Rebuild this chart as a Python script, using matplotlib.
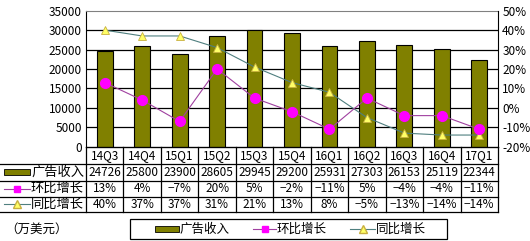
import matplotlib
matplotlib.use('Agg')
import matplotlib.pyplot as plt
from matplotlib.lines import Line2D
from matplotlib.patches import Rectangle

plt.rcParams['font.family'] = ['Noto Sans CJK SC', 'DejaVu Sans']

quarters = ['14Q3', '14Q4', '15Q1', '15Q2', '15Q3', '15Q4', '16Q1', '16Q2', '16Q3', '16Q4', '17Q1']
revenue = [24726, 25800, 23900, 28605, 29945, 29200, 25931, 27303, 26153, 25119, 22344]
qoq = [13, 4, -7, 20, 5, -2, -11, 5, -4, -4, -11]
yoy = [40, 37, 37, 31, 21, 13, 8, -5, -13, -14, -14]
left_ticks = [0, 5000, 10000, 15000, 20000, 25000, 30000, 35000]
right_ticks = [-20, -10, 0, 10, 20, 30, 40, 50]
series_names = ['广告收入', '环比增长', '同比增长']

BAR_C = '#808000'
QOQ_C = '#ff00ff'
QOQ_LINE = '#a040a0'
YOY_C = '#ffff66'
YOY_LINE = '#4f7f7f'

W, H = 530, 241
fig = plt.figure(figsize=(W / 100, H / 100), dpi=100)
fig.patch.set_facecolor('white')

def fx(px):
    return px / W

def fy(py):
    return 1 - py / H

x0, x1, ytop, ybot = 86, 498, 10.7, 146.7
ax = fig.add_axes([fx(x0), fy(ybot), fx(x1) - fx(x0), fy(ytop) - fy(ybot)])
ax2 = ax.twinx()

xs = list(range(len(quarters)))
ax.bar(xs, revenue, width=0.42, color=BAR_C, edgecolor='black', linewidth=0.8, zorder=3)
ax.set_xlim(-0.5, len(quarters) - 0.5)
ax.set_ylim(0, 35000)
ax.set_yticks(left_ticks)
ax.set_yticklabels([str(v) for v in left_ticks], fontsize=8.5)
ax.set_xticks([])
for v in left_ticks[1:-1]:
    ax.axhline(v, color='black', linewidth=0.9, zorder=1)

ax2.plot(xs, yoy, color=YOY_LINE, linewidth=0.8, marker='^', markersize=6,
         markerfacecolor=YOY_C, markeredgecolor='#c8b040', markeredgewidth=0.6, zorder=4)
ax2.plot(xs, qoq, color=QOQ_LINE, linewidth=0.8, marker='o', markersize=7,
         markerfacecolor=QOQ_C, markeredgecolor=QOQ_C, zorder=5)
ax2.set_ylim(-20, 50)
ax2.set_yticks(right_ticks)
ax2.set_yticklabels([f'{v}%' for v in right_ticks], fontsize=8.5)

for a in (ax, ax2):
    a.tick_params(length=0, pad=3)
    for s in a.spines.values():
        s.set_visible(False)
ax.spines['left'].set_visible(True)
ax.spines['left'].set_color('black')
ax2.spines['right'].set_visible(True)
ax2.spines['right'].set_color('black')
ax.spines['top'].set_visible(True)
ax.spines['top'].set_color('#808080')
ax.spines['bottom'].set_visible(True)
ax.spines['bottom'].set_color('black')

# data table below the plot
row_lines = [146.7, 163.5, 180.5, 196.5, 212]
col_w = (x1 - x0) / len(quarters)
lw = 0.9
fig.add_artist(Line2D([fx(x0), fx(x1)], [fy(row_lines[0])] * 2, color='black', lw=lw))
for r in row_lines[1:]:
    fig.add_artist(Line2D([fx(0), fx(x1)], [fy(r)] * 2, color='black', lw=lw))
for i in range(len(quarters) + 1):
    xp = x0 + i * col_w
    fig.add_artist(Line2D([fx(xp)] * 2, [fy(row_lines[0]), fy(row_lines[-1])], color='black', lw=lw))

rows = [quarters, [str(v) for v in revenue], [f'{v}%' for v in qoq], [f'{v}%' for v in yoy]]
for r, vals in enumerate(rows):
    yc = (row_lines[r] + row_lines[r + 1]) / 2
    for i, t in enumerate(vals):
        fig.text(fx(x0 + (i + 0.5) * col_w), fy(yc), t.replace('-', '\u2212'), ha='center', va='center', fontsize=8.5)

# row headers with legend keys
yc = (row_lines[1] + row_lines[2]) / 2
fig.add_artist(Rectangle((fx(4), fy(yc + 3)), fx(26), fy(0) - fy(6), facecolor=BAR_C, edgecolor='black', lw=0.6))
fig.text(fx(31), fy(yc), series_names[0], ha='left', va='center', fontsize=9.5)
yc = (row_lines[2] + row_lines[3]) / 2
fig.add_artist(Line2D([fx(4), fx(30)], [fy(yc)] * 2, color=QOQ_LINE, lw=0.8))
fig.add_artist(Line2D([fx(17)], [fy(yc)], marker='s', markersize=5, color=QOQ_C, lw=0))
fig.text(fx(31), fy(yc), series_names[1], ha='left', va='center', fontsize=9.5)
yc = (row_lines[3] + row_lines[4]) / 2
fig.add_artist(Line2D([fx(4), fx(30)], [fy(yc)] * 2, color=YOY_LINE, lw=0.8))
fig.add_artist(Line2D([fx(17)], [fy(yc)], marker='^', markersize=6, markerfacecolor=YOY_C,
                      markeredgecolor='#c8b040', lw=0))
fig.text(fx(31), fy(yc), series_names[2], ha='left', va='center', fontsize=9.5)

fig.text(fx(5), fy(229), '（万美元）', ha='left', va='center', fontsize=9)

# legend box
fig.add_artist(Rectangle((fx(130), fy(239)), fx(447 - 130), fy(0) - fy(20), facecolor='white',
                         edgecolor='black', lw=0.9))
ly = 229
fig.add_artist(Rectangle((fx(155), fy(ly + 3)), fx(24), fy(0) - fy(6), facecolor=BAR_C, edgecolor='black', lw=0.6))
fig.text(fx(180), fy(ly), series_names[0], ha='left', va='center', fontsize=9)
fig.add_artist(Line2D([fx(253), fx(276)], [fy(ly)] * 2, color=QOQ_LINE, lw=0.8))
fig.add_artist(Line2D([fx(264.5)], [fy(ly)], marker='s', markersize=5, color=QOQ_C, lw=0))
fig.text(fx(277), fy(ly), series_names[1], ha='left', va='center', fontsize=9)
fig.add_artist(Line2D([fx(350), fx(375)], [fy(ly)] * 2, color=YOY_LINE, lw=0.8))
fig.add_artist(Line2D([fx(362.5)], [fy(ly)], marker='^', markersize=6, markerfacecolor=YOY_C,
                      markeredgecolor='#c8b040', lw=0))
fig.text(fx(376), fy(ly), series_names[2], ha='left', va='center', fontsize=9)

fig.savefig('out.png', dpi=100)
